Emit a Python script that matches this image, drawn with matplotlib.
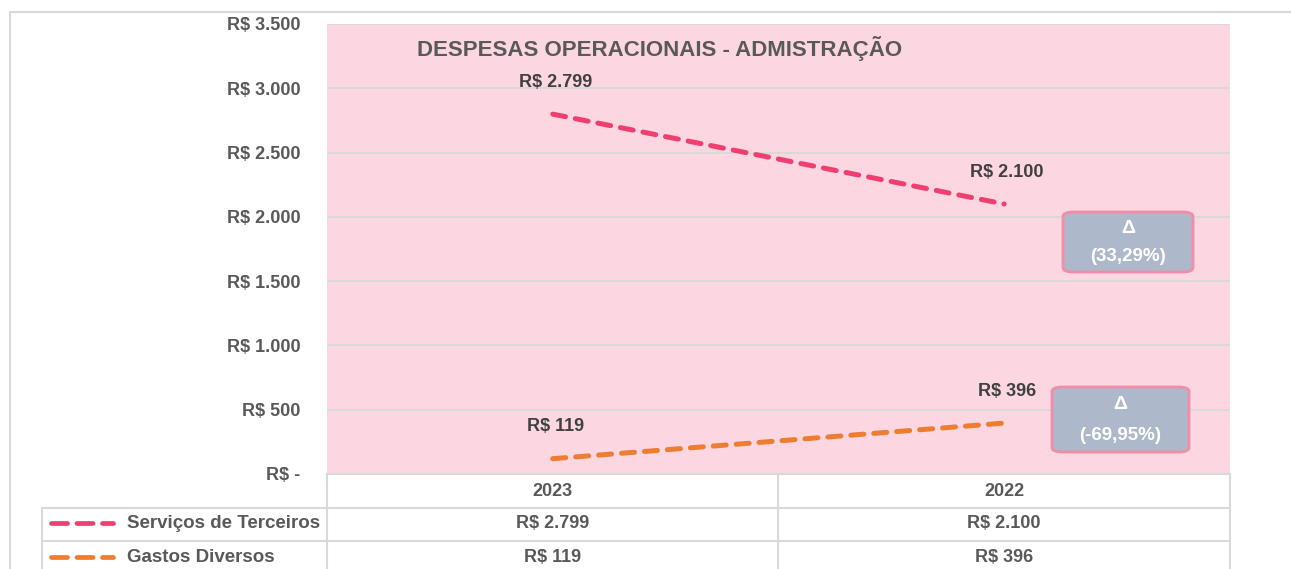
import matplotlib
matplotlib.use("Agg")
import matplotlib.pyplot as plt
from matplotlib.lines import Line2D
from matplotlib.patches import FancyBboxPatch, Rectangle

categories = ["2023", "2022"]
series_names = ["Serviços de Terceiros", "Gastos Diversos"]
servicos = [2799, 2100]
gastos = [119, 396]
value_labels = [["R$ 2.799", "R$ 2.100"], ["R$ 119", "R$ 396"]]
yticks = [0, 500, 1000, 1500, 2000, 2500, 3000, 3500]
ytick_labels = ["R$ -", "R$ 500", "R$ 1.000", "R$ 1.500", "R$ 2.000", "R$ 2.500", "R$ 3.000", "R$ 3.500"]
deltas = ["(33,29%)", "(-69,95%)"]
title = "DESPESAS OPERACIONAIS - ADMISTRAÇÃO"

FONT = ["Liberation Sans Narrow", "Liberation Sans", "DejaVu Sans"]
plt.rcParams["font.family"] = FONT
TXT = "#595959"
DARK = "#404040"
GRID = "#D9D9D9"
PINK_BG = "#FCD7E1"
colors = ["#EE3F70", "#ED7D31"]
DASH = (0, (2.6, 2.0))

W, H = 1291, 569
fig = plt.figure(figsize=(W / 100, H / 100), dpi=100)

def fx(px):
    return px / W

def fy(py):
    return 1 - py / H

# outer chart border
fig.add_artist(Rectangle((fx(10), fy(580)), fx(1300), fy(12) - fy(580), transform=fig.transFigure,
                         fill=False, edgecolor=GRID, lw=1.5))

L, R, T, B = 327, 1230, 24, 474
ax = fig.add_axes([fx(L), fy(B), fx(R) - fx(L), fy(T) - fy(B)])
ax.set_facecolor(PINK_BG)
ax.set_xlim(-0.5, 1.5)
ax.set_ylim(0, 3500)
ax.set_yticks(yticks)
ax.set_yticklabels(ytick_labels, fontsize=13, fontweight="bold", color=TXT)
ax.tick_params(axis="y", length=0, pad=19)
ax.set_xticks([])
for s in ax.spines.values():
    s.set_visible(False)
ax.grid(axis="y", color=GRID, lw=1.3)
ax.set_axisbelow(True)

x = list(range(len(categories)))
series = [servicos, gastos]
for i, (vals, c) in enumerate(zip(series, colors)):
    ax.plot(x, vals, color=c, lw=3.6, ls=DASH, dash_capstyle="round")
    for xi, v, lab in zip(x, vals, value_labels[i]):
        ax.annotate(lab, (xi, v), xytext=(2, 23), textcoords="offset points",
                    ha="center", va="center", fontsize=13, fontweight="bold", color=DARK)

ax.text(0.1, 0.945, title, transform=ax.transAxes, ha="left", va="center",
        fontsize=16, fontweight="bold", color=TXT)

# delta boxes
boxes = [(1063, 212, 130, 60), (1052, 387, 137, 65)]
for (bx, by, bw, bh), d in zip(boxes, deltas):
    p = FancyBboxPatch((fx(bx), fy(by + bh)), fx(bw), fy(by) - fy(by + bh),
                       boxstyle="round,pad=0,rounding_size=0.008", transform=fig.transFigure,
                       facecolor="#ADB9CA", edgecolor="#F48BA9", lw=2)
    fig.add_artist(p)
    fig.text(fx(bx + bw / 2), fy(by + bh * 0.27), "Δ", ha="center", va="center",
             fontsize=14, fontweight="bold", color="white")
    fig.text(fx(bx + bw / 2), fy(by + bh * 0.74), d, ha="center", va="center",
             fontsize=13.5, fontweight="bold", color="white")

# data table
col_edges = [327, 778, 1230]
row_edges = [474, 508, 541, 575]
leg_left = 42
lc = dict(color=GRID, lw=1.5, transform=fig.transFigure)
fig.add_artist(Line2D([fx(327), fx(1230)], [fy(474), fy(474)], **lc))
for ry in row_edges[1:3]:
    fig.add_artist(Line2D([fx(leg_left), fx(1230)], [fy(ry), fy(ry)], **lc))
for cx in col_edges:
    fig.add_artist(Line2D([fx(cx), fx(cx)], [fy(474), fy(575)], **lc))
fig.add_artist(Line2D([fx(leg_left), fx(leg_left)], [fy(508), fy(575)], **lc))

centers = [(col_edges[j] + col_edges[j + 1]) / 2 for j in range(2)]
for j, cat in enumerate(categories):
    fig.text(fx(centers[j]), fy(491), cat, ha="center", va="center",
             fontsize=13, fontweight="bold", color=TXT)
row_centers = [523, 557]
for i, name in enumerate(series_names):
    yc = row_centers[i]
    fig.add_artist(Line2D([fx(51), fx(113)], [fy(yc), fy(yc)], color=colors[i], lw=3.4,
                          ls=(0, (3.4, 2.0)), dash_capstyle="round", transform=fig.transFigure))
    fig.text(fx(127), fy(yc), name, ha="left", va="center",
             fontsize=13.5, fontweight="bold", color=TXT)
    for j in range(2):
        fig.text(fx(centers[j]), fy(yc), value_labels[i][j], ha="center", va="center",
                 fontsize=13, fontweight="bold", color=TXT)

fig.savefig("out.png", dpi=100)
